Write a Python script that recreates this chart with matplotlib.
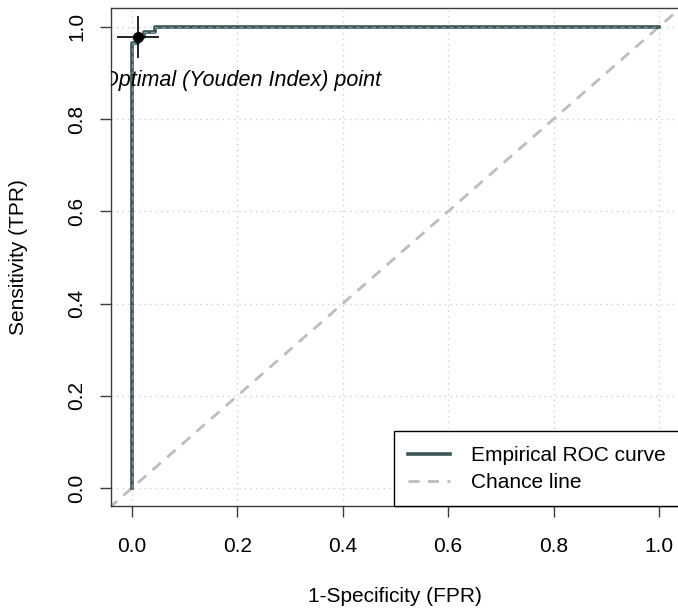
import matplotlib
matplotlib.use("Agg")
import matplotlib.pyplot as plt
from matplotlib.lines import Line2D

plt.rcParams['font.family'] = ['Liberation Sans', 'DejaVu Sans']
plt.rcParams['font.size'] = 15

# empirical ROC (corner points of the step curve)
fpr = [0.0, 0.0, 0.011, 0.011, 0.022, 0.022, 0.033, 0.033, 0.044, 0.044, 1.0]
tpr = [0.0, 0.966, 0.966, 0.977, 0.977, 0.989, 0.989, 0.989, 0.989, 1.0, 1.0]

# Youden optimum
opt_fpr = 0.011
opt_tpr = 0.977

ticks = [0.0, 0.2, 0.4, 0.6, 0.8, 1.0]
tick_labels = ['0.0', '0.2', '0.4', '0.6', '0.8', '1.0']

roc_col = '#3a5656'
chance_col = '#bdbdbd'
frame_col = '#3c3c3c'

fig = plt.figure(figsize=(6.78, 6.11), dpi=100)
ax = fig.add_axes([111 / 678, 1 - 506.4 / 611, 569 / 678, 498 / 611])
ax.set_xlim(-0.04, 1.04)
ax.set_ylim(-0.04, 1.04)

# dotted grid
for t in ticks:
    ax.axhline(t, color='#cfcfcf', lw=1, ls=(0, (1, 3)), zorder=1)
    ax.axvline(t, color='#cfcfcf', lw=1, ls=(0, (1, 3)), zorder=1)

# chance line across the whole panel
ax.plot([-0.1, 1.1], [-0.1, 1.1], color=chance_col, lw=2, ls=(0, (4, 3)), zorder=2)

# ROC curve
ax.plot(fpr, tpr, color=roc_col, lw=2.6, zorder=3)
ax.plot(fpr, tpr, color='#7f9a9a', lw=0.8, ls=(0, (4, 3)), zorder=4)

# optimal point with crosshair
ax.plot([opt_fpr], [opt_tpr], marker='+', ms=30, mew=1.2, color='black', ls='none', zorder=5)
ax.plot([opt_fpr], [opt_tpr], marker='o', ms=7, color='black', ls='none', zorder=6)
ax.text(0.207, 0.883, 'Optimal (Youden Index) point', style='italic', fontsize=15.5,
        ha='center', va='center', clip_on=True, zorder=6)

ax.set_xticks(ticks)
ax.set_xticklabels(tick_labels)
ax.set_yticks(ticks)
ax.set_yticklabels(tick_labels, rotation=90, va='center')
ax.tick_params(direction='out', length=8, width=1, color=frame_col)
ax.tick_params(axis='x', pad=14)
ax.tick_params(axis='y', pad=10)
for s in ax.spines.values():
    s.set_color(frame_col)
    s.set_linewidth(1)

ax.set_xlabel('1-Specificity (FPR)')
ax.set_ylabel('Sensitivity (TPR)')
ax.xaxis.set_label_coords((395 - 111) / 569, (506.4 - 597) / 498)
ax.xaxis.label.set_va('center')
ax.yaxis.set_label_coords((18 - 111) / 569, (506.4 - 257) / 498)
ax.yaxis.label.set_va('center')

handles = [Line2D([], [], color=roc_col, lw=2.6),
           Line2D([], [], color=chance_col, lw=2, ls=(0, (4, 3)))]
leg = ax.legend(handles, ['Empirical ROC curve', 'Chance line'], loc='lower right',
                borderaxespad=0, fancybox=False, framealpha=1, edgecolor='black',
                handlelength=2.0, handletextpad=1.0, labelspacing=0.38, borderpad=0.7)
leg.get_frame().set_linewidth(1)

fig.savefig('out.png', dpi=100)
